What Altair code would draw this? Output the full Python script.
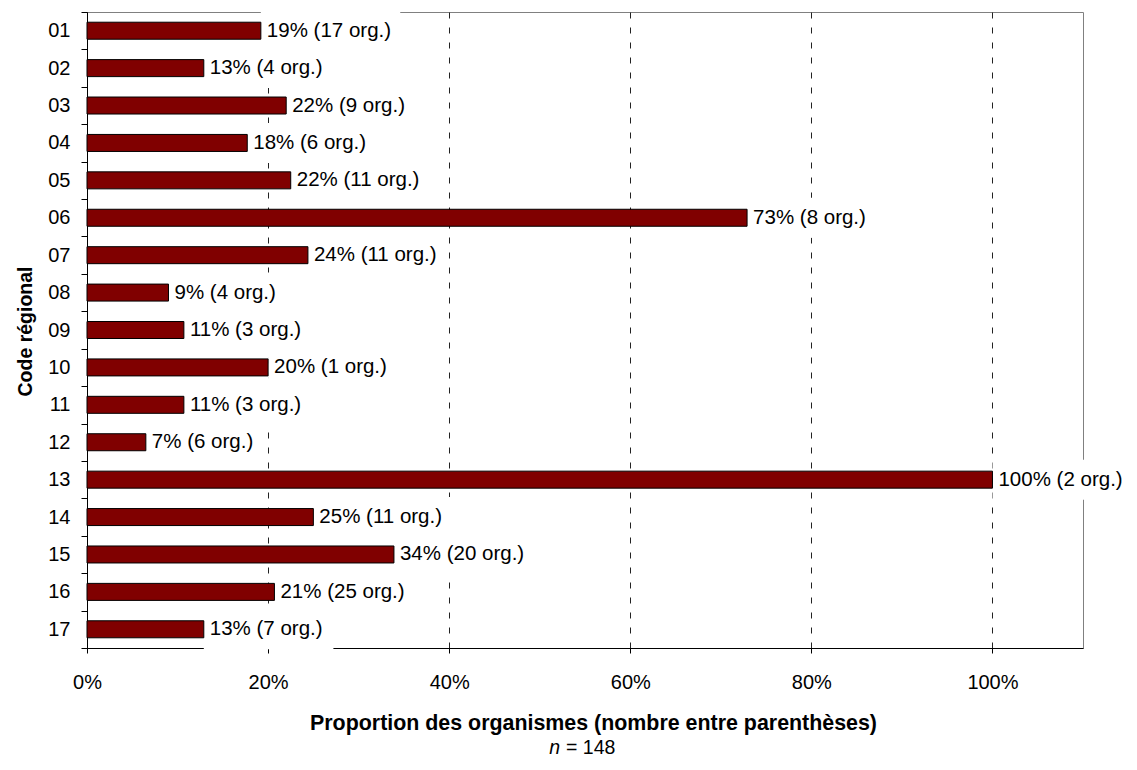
import altair as alt
import pandas as pd

# ---- data ----
codes = ["01", "02", "03", "04", "05", "06", "07", "08", "09", "10",
         "11", "12", "13", "14", "15", "16", "17"]
proportions = [0.192, 0.129, 0.22, 0.177, 0.225, 0.729, 0.244, 0.09, 0.107, 0.20,
               0.107, 0.065, 1.0, 0.25, 0.339, 0.207, 0.129]
pct_labels = [19, 13, 22, 18, 22, 73, 24, 9, 11, 20, 11, 7, 100, 25, 34, 21, 13]
org_counts = [17, 4, 9, 6, 11, 8, 11, 4, 3, 1, 3, 6, 2, 11, 20, 25, 7]
x_ticks = [0, 0.2, 0.4, 0.6, 0.8, 1.0]
x_title = "Proportion des organismes (nombre entre parenthèses)"
y_title = "Code régional"
n_total = 148

df = pd.DataFrame({
    "code": codes,
    "prop": proportions,
    "label": [f"{p}% ({n} org.)" for p, n in zip(pct_labels, org_counts)],
})

FONT = "Liberation Sans"
W, H = 996, 636
XMAX = 1.1
px_per_unit = W / XMAX

x_scale = alt.Scale(domain=[0, XMAX], nice=False, zero=True)
y_scale = alt.Scale(domain=codes, paddingInner=0, paddingOuter=0)

x_axis = alt.Axis(
    values=x_ticks, format=".0%", title=x_title,
    titleFont=FONT, titleFontSize=21.4, titleFontWeight="bold", titleColor="black",
    titleX=506, titleY=81, titleAlign="center", titleBaseline="alphabetic",
    labelFont=FONT, labelFontSize=20, labelColor="black", labelPadding=19,
    labelFlush=False,
    tickSize=5, tickColor="black", domainColor="black",
    grid=True, gridColor="#222222", gridDash=[6, 9], gridWidth=1,
)
y_axis = alt.Axis(
    title=y_title,
    titleFont=FONT, titleFontSize=19.5, titleFontWeight="bold", titleColor="black",
    titleX=-56, titleY=319, titleAngle=270, titleAlign="center",
    titleBaseline="alphabetic",
    labelFont=FONT, labelFontSize=20, labelColor="black", labelPadding=11,
    tickSize=6, tickColor="black", tickBand="extent", domainColor="black",
    grid=False,
)

base = alt.Chart(df)

boxes = base.transform_calculate(
    x2=f"datum.prop + (length(datum.label) * 9.8 + 12) / {px_per_unit}"
).mark_bar(color="white", size=40).encode(
    x=alt.X("prop:Q", scale=x_scale, axis=x_axis),
    x2="x2:Q",
    y=alt.Y("code:N", scale=y_scale, axis=y_axis, sort=codes),
)

bars = base.mark_bar(color="#800000", stroke="black", strokeWidth=1, size=17).encode(
    x=alt.X("prop:Q", scale=x_scale, axis=x_axis),
    y=alt.Y("code:N", scale=y_scale, axis=y_axis, sort=codes),
)

texts = base.mark_text(align="left", baseline="middle", dx=6, font=FONT,
                       fontSize=20.5, color="black").encode(
    x=alt.X("prop:Q", scale=x_scale, axis=x_axis),
    y=alt.Y("code:N", scale=y_scale, axis=y_axis, sort=codes),
    text="label:N",
)

n_letter = alt.Chart(pd.DataFrame({"t": ["n"]})).mark_text(
    align="right", baseline="alphabetic", font=FONT, fontSize=19.5,
    fontStyle="italic", color="black"
).encode(text="t:N", x=alt.value(473), y=alt.value(742))

n_value = alt.Chart(pd.DataFrame({"t": [f"= {n_total}"]})).mark_text(
    align="left", baseline="alphabetic", font=FONT, fontSize=19.5, color="black"
).encode(text="t:N", x=alt.value(479), y=alt.value(742))

chart = alt.layer(boxes, bars, texts, n_letter, n_value).properties(
    width=W, height=H,
    autosize=alt.AutoSizeParams(type="none"),
    padding={"left": 79, "top": 4, "right": 46, "bottom": 114},
).configure(font=FONT).configure_view(stroke="#808080", strokeWidth=1)

chart.save("out.html", embed_options={"renderer": "svg", "actions": False})
